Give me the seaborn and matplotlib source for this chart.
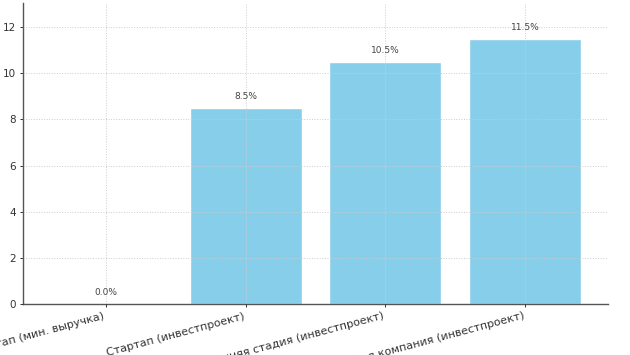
import matplotlib
matplotlib.use("Agg")
import matplotlib.pyplot as plt
import seaborn as sns
import pandas as pd

categories = ["Стартап (мин. выручка)", "Стартап (инвестпроект)",
              "Ранняя стадия (инвестпроект)", "Зрелая компания (инвестпроект)"]
values = [0.0, 8.5, 10.5, 11.5]
labels = ["0.0%", "8.5%", "10.5%", "11.5%"]

sns.set_style("ticks")
plt.rcParams['font.family'] = ['DejaVu Sans']

fig = plt.figure(figsize=(6.3, 3.55), dpi=100)
ax = fig.add_axes([23/630, 51/355, 585/630, 301/355])

df = pd.DataFrame({"cat": categories, "val": values})
sns.barplot(data=df, x="cat", y="val", color="#87CEEB", saturation=1, width=0.8, ax=ax)

for i, (v, t) in enumerate(zip(values, labels)):
    ax.text(i, v + 0.3, t, ha="center", va="bottom", fontsize=6.5, color="#444444")

ax.set_ylim(0, 13.04)
ax.set_xlim(-0.59, 3.59)
ax.set_yticks([0, 2, 4, 6, 8, 10, 12])
ax.grid(True, linestyle=":", color="#cccccc", linewidth=0.7)
ax.set_axisbelow(False)
ax.set_xlabel("")
ax.set_ylabel("")
for s in ["top", "right"]:
    ax.spines[s].set_visible(False)
for s in ["left", "bottom"]:
    ax.spines[s].set_color("#555555")
    ax.spines[s].set_linewidth(1.0)
ax.tick_params(axis="both", colors="#333333", length=2.5, width=0.7, pad=2.5)
ax.tick_params(axis="y", labelsize=7.5)
ax.tick_params(axis="x", labelsize=8)
plt.setp(ax.get_xticklabels(), rotation=15, ha="right")

fig.savefig("out.png", dpi=100)
